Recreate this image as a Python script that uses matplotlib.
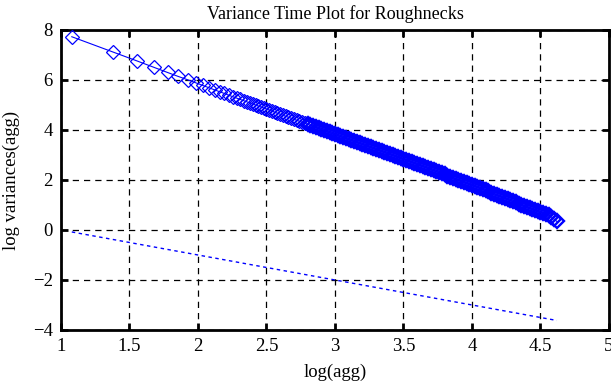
import matplotlib
matplotlib.use('Agg')
import matplotlib.pyplot as plt
import numpy as np

# log10 of the aggregation level and log10 of the variance
log_agg = [1.079, 1.380, 1.556, 1.681, 1.778, 1.857, 1.924, 1.982, 2.033, 2.079,
           2.121, 2.158, 2.193, 2.225, 2.255, 2.283, 2.310, 2.334, 2.358, 2.380,
           2.40, 2.42, 2.44, 2.46, 2.48, 2.50, 2.52, 2.54, 2.56, 2.58,
           2.60, 2.62, 2.64, 2.66, 2.68, 2.70, 2.72, 2.74, 2.76, 2.78,
           2.80, 2.82, 2.84, 2.86, 2.88, 2.90, 2.92, 2.94, 2.96, 2.98,
           3.00, 3.02, 3.04, 3.06, 3.08, 3.10, 3.12, 3.14, 3.16, 3.18,
           3.20, 3.22, 3.24, 3.26, 3.28, 3.30, 3.32, 3.34, 3.36, 3.38,
           3.40, 3.42, 3.44, 3.46, 3.48, 3.50, 3.52, 3.54, 3.56, 3.58,
           3.60, 3.62, 3.64, 3.66, 3.68, 3.70, 3.72, 3.74, 3.76, 3.78,
           3.80, 3.82, 3.84, 3.86, 3.88, 3.90, 3.92, 3.94, 3.96, 3.98,
           4.00, 4.02, 4.04, 4.06, 4.08, 4.10, 4.12, 4.14, 4.16, 4.18,
           4.20, 4.22, 4.24, 4.26, 4.28, 4.30, 4.32, 4.34, 4.36, 4.38,
           4.40, 4.42, 4.44, 4.46, 4.48, 4.50, 4.52, 4.54, 4.56, 4.58,
           4.60, 4.62]
log_var = [7.73, 7.12, 6.76, 6.50, 6.30, 6.14, 6.01, 5.89, 5.78, 5.69,
           5.60, 5.53, 5.46, 5.39, 5.33, 5.27, 5.22, 5.17, 5.12, 5.08,
           5.04, 5.00, 4.96, 4.92, 4.88, 4.84, 4.80, 4.76, 4.71, 4.67,
           4.63, 4.59, 4.55, 4.51, 4.47, 4.43, 4.39, 4.35, 4.31, 4.27,
           4.23, 4.19, 4.15, 4.11, 4.06, 4.02, 3.98, 3.94, 3.90, 3.86,
           3.82, 3.78, 3.74, 3.70, 3.66, 3.62, 3.58, 3.55, 3.51, 3.47,
           3.43, 3.39, 3.35, 3.31, 3.27, 3.23, 3.19, 3.15, 3.11, 3.07,
           3.04, 3.00, 2.96, 2.92, 2.88, 2.84, 2.80, 2.76, 2.72, 2.67,
           2.63, 2.59, 2.55, 2.51, 2.47, 2.42, 2.38, 2.34, 2.30, 2.26,
           2.22, 2.17, 2.13, 2.09, 2.05, 2.01, 1.97, 1.92, 1.88, 1.84,
           1.80, 1.76, 1.71, 1.67, 1.62, 1.58, 1.54, 1.49, 1.45, 1.40,
           1.36, 1.32, 1.27, 1.23, 1.18, 1.14, 1.10, 1.05, 1.01, 0.96,
           0.92, 0.88, 0.83, 0.79, 0.74, 0.70, 0.68, 0.65, 0.60, 0.52,
           0.43, 0.34]

# reference line with slope -1
ref_x = [1.079, 4.620]
ref_y = [-0.079, -3.620]

x_ticks = [1, 1.5, 2, 2.5, 3, 3.5, 4, 4.5, 5]
x_tick_labels = ['1', '1.5', '2', '2.5', '3', '3.5', '4', '4.5', '5']
y_ticks = [-4, -2, 0, 2, 4, 6, 8]

plt.rcParams['font.family'] = ['Liberation Serif', 'DejaVu Serif']

fig = plt.figure(figsize=(6.11, 3.85), dpi=100)
ax = fig.add_axes([0.0998, 0.1429, 0.8969, 0.7792])

# where the markers pile up into a solid band, give them a heavier edge
split = sum(1 for v in log_agg if v < 2.79)
ax.plot(log_agg, log_var, color='blue', linewidth=0.8, zorder=3)
ax.plot(log_agg[:split], log_var[:split], linestyle='none', color='blue', marker='D',
        markersize=7, fillstyle='none', markeredgewidth=0.9, zorder=3)
ax.plot(log_agg[split:], log_var[split:], linestyle='none', color='blue', marker='D',
        markersize=7, fillstyle='none', markeredgewidth=1.7, zorder=3)
ax.plot(ref_x, ref_y, color='blue', linewidth=1.0, linestyle=(0, (2.5, 2.5)), zorder=3)

ax.set_xlim(1, 5)
ax.set_ylim(-4, 8)
ax.set_xticks(x_ticks)
ax.set_xticklabels(x_tick_labels)
ax.set_yticks(y_ticks)

ax.grid(True, color='black', linestyle=(0, (5, 4)), linewidth=0.9, zorder=1)
ax.tick_params(direction='in', length=5, width=2, labelsize=13.5,
               top=True, right=True, pad=6)
for s in ax.spines.values():
    s.set_linewidth(2)

ax.set_title('Variance Time Plot for Roughnecks', fontsize=13, pad=8)
ax.set_xlabel('log(agg)', fontsize=13.5, labelpad=6)
ax.set_ylabel('log variances(agg)', fontsize=13.5)
ax.yaxis.set_label_coords(-0.074, 0.5)

fig.savefig('out.png', dpi=100)
